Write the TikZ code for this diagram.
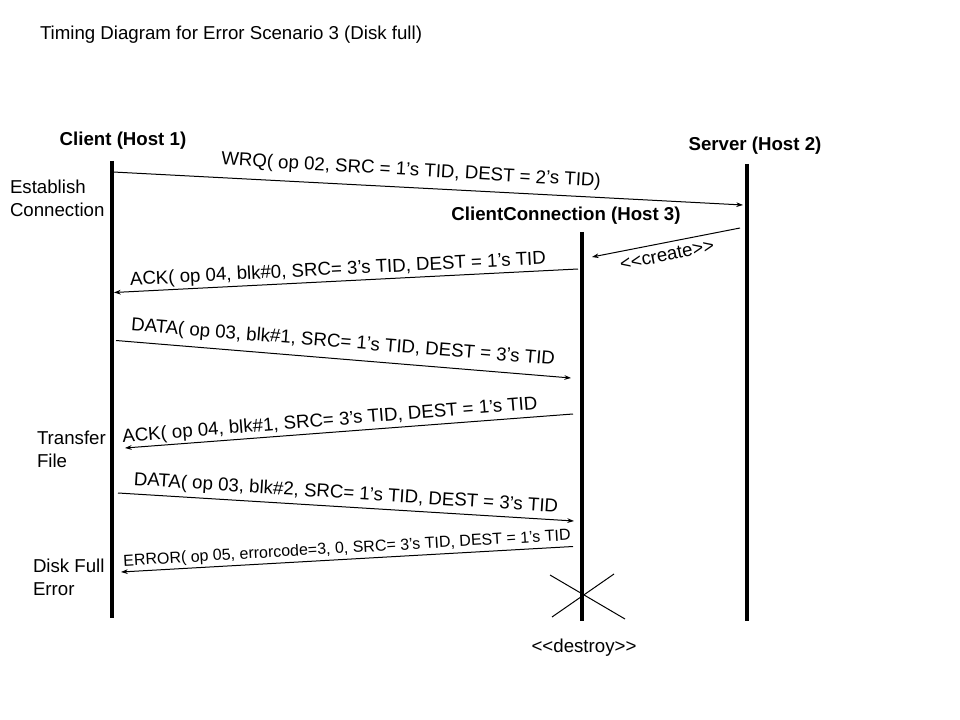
\documentclass[tikz,border=0pt]{standalone}
\usepackage{fontspec}
\setmainfont{Liberation Sans}
\usetikzlibrary{arrows.meta}
\newcommand\ltlt{<\kern0pt<}
\newcommand\gtgt{>\kern0pt>}
\begin{document}
\begin{tikzpicture}[x=0.75pt,y=-0.75pt,
  every node/.style={inner sep=0pt, outer sep=0pt},
  lifeline/.style={line width=3pt},
  msg/.style={line width=0.75pt, -{Stealth[length=5pt,width=3.5pt]}},
  cross/.style={line width=0.75pt},
  lbl/.style={font=\fontsize{14}{16}\selectfont},
  smalllbl/.style={font=\fontsize{12}{14}\selectfont},
  head/.style={font=\fontsize{14}{16}\selectfont\bfseries},
  side/.style={font=\fontsize{14}{17.25}\selectfont, align=left, anchor=west},
  titletext/.style={font=\fontsize{14}{16}\selectfont, anchor=west},
]
\useasboundingbox[fill=white] (0,0) rectangle (960,720);

% title
\node[titletext] (title) at (40,35) {Timing Diagram for Error Scenario 3 (Disk full)};

% headers
\node[head] (client) at (123,141) {Client (Host 1)};
\node[head] (server) at (755,146) {Server (Host 2)};
\node[head] (conn) at (566,216) {ClientConnection (Host 3)};

% side labels
\node[side] (est) at (10,198.5) {Establish\\Connection};
\node[side] (tf) at (37,449) {Transfer\\File};
\node[side] (dfe) at (33,577.5) {Disk Full\\Error};

% lifelines
\coordinate (ct) at (112,161);
\coordinate (cb) at (112,618);
\coordinate (st) at (747,164);
\coordinate (sb) at (747,621);
\coordinate (ht) at (582,232);
\coordinate (hb) at (582,621);
\draw[lifeline] (ct) -- (cb);
\draw[lifeline] (st) -- (sb);
\draw[lifeline] (ht) -- (hb);

% message end points
\coordinate (m1a) at (113,172);   \coordinate (m1b) at (743,205);
\coordinate (m2a) at (740,228);   \coordinate (m2b) at (592,257);
\coordinate (m3a) at (578,269);   \coordinate (m3b) at (114,292.5);
\coordinate (m4a) at (116,340.5); \coordinate (m4b) at (571,378);
\coordinate (m5a) at (573,414);   \coordinate (m5b) at (125,448);
\coordinate (m6a) at (118,493);   \coordinate (m6b) at (574,521);
\coordinate (m7a) at (573,546.5); \coordinate (m7b) at (121,572);

\draw[msg] (m1a) -- (m1b);
\draw[msg] (m2a) -- (m2b);
\draw[msg] (m3a) -- (m3b);
\draw[msg] (m4a) -- (m4b);
\draw[msg] (m5a) -- (m5b);
\draw[msg] (m6a) -- (m6b);
\draw[msg] (m7a) -- (m7b);

% message labels
\node[lbl, rotate=-3.3] (l1) at (411,171) {WRQ( op 02, SRC = 1’s TID, DEST = 2’s TID)};
\node[lbl, rotate=11.5] (l2) at (667,255) {\ltlt create\gtgt};
\node[lbl, rotate=2.9] (l3) at (338,270) {ACK( op 04, blk\#0, SRC= 3’s TID, DEST = 1’s TID};
\node[lbl, rotate=-4.6] (l4) at (343,343) {DATA( op 03, blk\#1, SRC= 1’s TID, DEST = 3’s TID};
\node[lbl, rotate=4.6] (l5) at (330,421) {ACK( op 04, blk\#1, SRC= 3’s TID, DEST = 1’s TID};
\node[lbl, rotate=-3.7] (l6) at (346,494) {DATA( op 03, blk\#2, SRC= 1’s TID, DEST = 3’s TID};
\node[smalllbl, rotate=3.3] (l7) at (347,549) {ERROR( op 05, errorcode=3, 0, SRC= 3’s TID, DEST = 1’s TID};

% destroy cross
\coordinate (x1a) at (550,575); \coordinate (x1b) at (625,619);
\coordinate (x2a) at (614,574); \coordinate (x2b) at (552,617);
\draw[cross] (x1a) -- (x1b);
\draw[cross] (x2a) -- (x2b);
\node[lbl] (destroy) at (584,648) {\ltlt destroy\gtgt};
\end{tikzpicture}
\end{document}
